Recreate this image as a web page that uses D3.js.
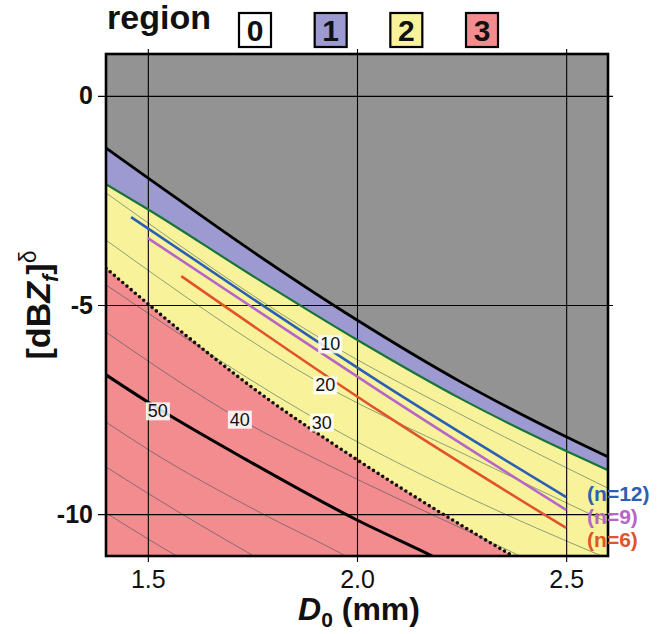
<!DOCTYPE html>
<html>
<head>
<meta charset="utf-8">
<script src="https://cdn.jsdelivr.net/npm/d3@7"></script>
<style>
  body { margin: 0; background: #fff; }
  svg { display: block; }
  text { font-family: "Liberation Sans", Arial, Helvetica, sans-serif; }
</style>
</head>
<body>
<svg id="chart" width="670" height="634"></svg>
<script>
// Axes
var xDomain = [1.4, 2.6]
var yDomain = [-11, 1]
var xTicks = [1.5, 2.0, 2.5]
var yTicks = [0, -5, -10]

// Regions (legend order) and their fills
var regionNames = ['0', '1', '2', '3']
var regionColors = ['#ffffff', '#9c9ad1', '#f8f39b', '#f28c8f']
var region0Fill = '#939393'

// Region boundaries, [D0, value]
var boundary01 = [[1.4, -1.25], [1.5, -1.96], [1.75, -3.72], [2.0, -5.36], [2.25, -6.85], [2.5, -8.15], [2.6, -8.63]]
var boundary12 = [[1.4, -2.11], [1.5, -2.71], [1.75, -4.30], [2.0, -5.83], [2.25, -7.25], [2.5, -8.49], [2.6, -8.95]]
var boundary23 = [[1.4, -4.12], [1.5, -4.97], [1.64, -6.12], [1.79, -7.27], [1.94, -8.30], [2.28, -10.45], [2.373, -11.0], [2.4, -11.15]]

// Contours (thin, except 50 which is drawn thick)
var contour10 = [[1.4, -2.32], [1.94, -5.96], [2.27, -7.73], [2.6, -9.38]]
var contour20 = [[1.4, -3.45], [1.92, -6.91], [2.27, -8.63], [2.6, -10.2]]
var contour30 = [[1.4, -4.52], [1.94, -7.94], [2.28, -9.66], [2.58, -10.98], [2.62, -11.15]]
var contour40 = [[1.4, -5.65], [1.72, -7.73], [1.94, -8.87], [2.28, -10.48], [2.39, -11.0], [2.42, -11.15]]
var contour50 = [[1.4, -6.67], [1.5, -7.32], [1.75, -8.78], [2.0, -10.14], [2.18, -11.0], [2.22, -11.2]]
var contour60 = [[1.4, -7.80], [1.5, -8.45], [1.77, -9.97], [1.96, -10.93], [2.0, -11.15]]
var contour70 = [[1.4, -8.87], [1.5, -9.50], [1.75, -10.98], [1.78, -11.15]]
var contour80 = [[1.4, -9.97], [1.5, -10.59], [1.57, -11.0], [1.6, -11.15]]
var thinContours = [contour10, contour20, contour30, contour40, contour60, contour70, contour80]

var contourLabelTexts = ['10', '20', '30', '40', '50']
var contourLabelAt = [[1.936, -5.93], [1.924, -6.91], [1.916, -7.80], [1.72, -7.73], [1.524, -7.53]]

// n lines
var nNames = ['(n=12)', '(n=9)', '(n=6)']
var nColors = ['#2b5fb3', '#b566c6', '#e0532c']
var n12 = [[1.46, -2.90], [1.77, -4.98], [2.06, -6.88], [2.5, -9.59]]
var n9 = [[1.5, -3.40], [1.77, -5.19], [2.06, -7.10], [2.5, -9.90]]
var n6 = [[1.58, -4.31], [2.06, -7.58], [2.5, -10.33]]
var nLines = [n12, n9, n6]
var nLabelAt = [[2.55, -9.5], [2.55, -10.05], [2.55, -10.6]]

var svg = d3.select('#chart')
var x = d3.scaleLinear().domain(xDomain).range([106, 608])
var y = d3.scaleLinear().domain(yDomain).range([556, 54])

var line = d3.line()
  .x(function (d) { return x(d[0]) })
  .y(function (d) { return y(d[1]) })
  .curve(d3.curveMonotoneX)

var area = d3.area()
  .x(function (d) { return x(d[0]) })
  .y0(y(-12))
  .y1(function (d) { return y(d[1]) })
  .curve(d3.curveMonotoneX)

svg.append('clipPath').attr('id', 'plot-clip')
  .append('rect')
  .attr('x', x(xDomain[0])).attr('y', y(yDomain[1]))
  .attr('width', x(xDomain[1]) - x(xDomain[0]))
  .attr('height', y(yDomain[0]) - y(yDomain[1]))

// Region fills
var fills = svg.append('g').attr('clip-path', 'url(#plot-clip)')
fills.append('rect')
  .attr('x', x(xDomain[0])).attr('y', y(yDomain[1]))
  .attr('width', x(xDomain[1]) - x(xDomain[0]))
  .attr('height', y(yDomain[0]) - y(yDomain[1]))
  .attr('fill', region0Fill)

;[boundary01, boundary12, boundary23].forEach(function (b, i) {
  fills.append('path').datum(b).attr('d', area).attr('fill', regionColors[i + 1])
})

// thin contours
fills.selectAll('path.contour')
  .data(thinContours)
  .enter().append('path')
  .attr('class', 'contour')
  .attr('d', line)
  .attr('fill', 'none')
  .attr('stroke', 'rgba(30,70,80,0.55)')
  .attr('stroke-width', 0.9)

// Grid (ticks run a little past the frame)
var xAxis = svg.append('g')
  .attr('transform', 'translate(0,' + (y(yDomain[0]) + 6) + ')')
  .call(d3.axisBottom(x).tickValues(xTicks).tickFormat(d3.format('.1f'))
    .tickSize(-(y(yDomain[0]) - y(yDomain[1]) + 11)).tickPadding(8))
var yAxis = svg.append('g')
  .attr('transform', 'translate(' + (x(xDomain[0]) - 8) + ',0)')
  .call(d3.axisLeft(y).tickValues(yTicks).tickFormat(function (d) { return String(d) })
    .tickSize(-(x(xDomain[1]) - x(xDomain[0]) + 13)).tickPadding(5))
svg.selectAll('.domain').remove()
svg.selectAll('.tick line').attr('stroke', '#000').attr('stroke-width', 1.1)
xAxis.selectAll('text').attr('font-size', 25).attr('fill', '#111')
  .attr('font-family', '"Liberation Sans", Arial, sans-serif')
yAxis.selectAll('text').attr('font-size', 25).attr('font-weight', 'bold').attr('fill', '#111')
  .attr('font-family', '"Liberation Sans", Arial, sans-serif')

// Boundaries, thick contour and n lines
var curves = svg.append('g').attr('clip-path', 'url(#plot-clip)')
curves.append('path').datum(boundary01).attr('d', line)
  .attr('fill', 'none').attr('stroke', '#000').attr('stroke-width', 2.8)
curves.append('path').datum(boundary12).attr('d', line)
  .attr('fill', 'none').attr('stroke', '#19743a').attr('stroke-width', 2.2)
curves.append('path').datum(boundary23).attr('d', line)
  .attr('fill', 'none').attr('stroke', '#111').attr('stroke-width', 3.6)
  .attr('stroke-linecap', 'round').attr('stroke-dasharray', '0,5.5')
curves.append('path').datum(contour50).attr('d', line)
  .attr('fill', 'none').attr('stroke', '#000').attr('stroke-width', 3)

curves.selectAll('path.nline')
  .data(nLines)
  .enter().append('path')
  .attr('class', 'nline')
  .attr('d', line)
  .attr('fill', 'none')
  .attr('stroke', function (d, i) { return nColors[i] })
  .attr('stroke-width', 2.6)

// Contour labels on white patches
var labels = svg.append('g')
contourLabelTexts.forEach(function (t, i) {
  var g = labels.append('g')
  var txt = g.append('text')
    .attr('x', x(contourLabelAt[i][0]))
    .attr('y', y(contourLabelAt[i][1]))
    .attr('dy', '0.36em')
    .attr('text-anchor', 'middle')
    .attr('font-size', 18)
    .attr('fill', '#111')
    .text(t)
  var bb = txt.node().getBBox()
  g.insert('rect', 'text')
    .attr('x', bb.x - 2).attr('y', bb.y + 1)
    .attr('width', bb.width + 4).attr('height', bb.height - 2)
    .attr('fill', '#fff').attr('fill-opacity', 0.85)
})

// Frame
svg.append('rect')
  .attr('x', x(xDomain[0])).attr('y', y(yDomain[1]))
  .attr('width', x(xDomain[1]) - x(xDomain[0]))
  .attr('height', y(yDomain[0]) - y(yDomain[1]))
  .attr('fill', 'none').attr('stroke', '#000').attr('stroke-width', 2.6)

// n labels
svg.selectAll('text.nlabel')
  .data(nNames)
  .enter().append('text')
  .attr('class', 'nlabel')
  .attr('x', function (d, i) { return x(nLabelAt[i][0]) })
  .attr('y', function (d, i) { return y(nLabelAt[i][1]) })
  .attr('dy', '0.36em')
  .attr('font-size', 21)
  .attr('font-weight', 'bold')
  .attr('fill', function (d, i) { return nColors[i] })
  .text(function (d) { return d })

// Legend
svg.append('text').attr('x', 107).attr('y', 29)
  .attr('font-size', 33).attr('font-weight', 'bold').attr('fill', '#111')
  .attr('textLength', 104).attr('lengthAdjust', 'spacingAndGlyphs')
  .text('region')
var lx = d3.scalePoint().domain(regionNames).range([255, 482])
var leg = svg.selectAll('g.leg').data(regionNames).enter().append('g')
  .attr('class', 'leg')
  .attr('transform', function (d) { return 'translate(' + lx(d) + ',30)' })
leg.append('rect')
  .attr('x', -16).attr('y', -17).attr('width', 32).attr('height', 34)
  .attr('fill', function (d, i) { return regionColors[i] })
  .attr('stroke', '#000').attr('stroke-width', 2.2)
leg.append('text')
  .attr('text-anchor', 'middle').attr('dy', '0.37em')
  .attr('font-size', 30).attr('font-weight', 'bold').attr('fill', '#111')
  .text(function (d) { return d })

// Axis titles
var xl = svg.append('text').attr('x', 359).attr('y', 620)
  .attr('text-anchor', 'middle').attr('font-size', 32).attr('font-weight', 'bold').attr('fill', '#111')
xl.append('tspan').attr('font-style', 'italic').text('D')
xl.append('tspan').attr('font-size', 21).attr('dy', 7).text('0')
xl.append('tspan').attr('dy', -7).text(' (mm)')

var yl = svg.append('text').attr('transform', 'translate(50,305) rotate(-90)')
  .attr('text-anchor', 'middle').attr('font-size', 34).attr('font-weight', 'bold').attr('fill', '#111')
yl.append('tspan').text('[dB')
yl.append('tspan').attr('font-style', 'italic').text('Z')
yl.append('tspan').attr('font-style', 'italic').attr('font-size', 22).attr('dy', 8).text('f')
yl.append('tspan').attr('dy', -8).text(']')
yl.append('tspan').attr('font-size', 23).attr('font-weight', 'normal').attr('dy', -14).text('δ')
</script>
</body>
</html>
